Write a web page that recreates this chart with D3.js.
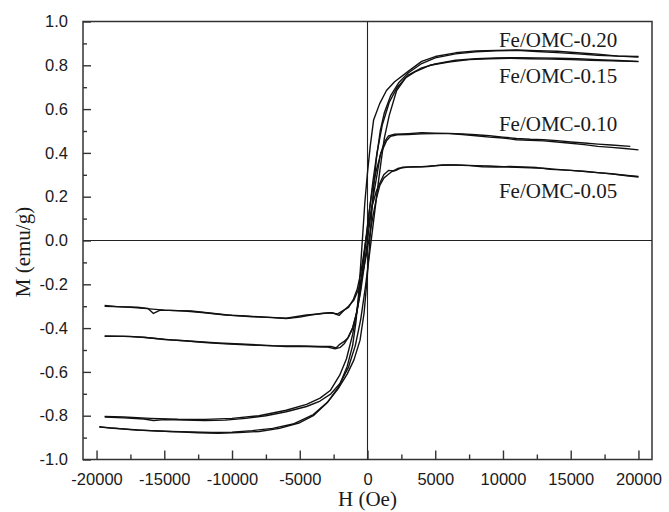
<!DOCTYPE html>
<html>
<head>
<meta charset="utf-8">
<script src="https://cdn.jsdelivr.net/npm/d3@7/dist/d3.min.js"></script>
<style>
  html, body { margin: 0; padding: 0; background: #fff; }
  svg { display: block; }
</style>
</head>
<body>
<div id="chart"></div>
<script>
// Magnetic hysteresis loops M(H) of Fe/OMC samples, each as [H (Oe), M (emu/g)]

// Fe/OMC-0.20
const fe20Down = [[20000,0.838],[18500,0.842],[17000,0.851],[15500,0.857],[14000,0.864],[12500,0.867],[11000,0.870],[9500,0.868],[8000,0.866],[6500,0.857],[5000,0.84],[4000,0.818],[3000,0.772],[2000,0.725],[1400,0.685],[900,0.625],[450,0.55],[200,0.43],[0,0.31],[-200,0.17],[-350,0.03],[-500,-0.11],[-650,-0.24],[-850,-0.37],[-1100,-0.48],[-1500,-0.575],[-2100,-0.665],[-2900,-0.735],[-4000,-0.795],[-5500,-0.838],[-7000,-0.858],[-8500,-0.868],[-10000,-0.875],[-11500,-0.877],[-13000,-0.874],[-14500,-0.872],[-16000,-0.868],[-17500,-0.863],[-19000,-0.856],[-19800,-0.85]];
const fe20Up = [[-19800,-0.852],[-18500,-0.858],[-17000,-0.866],[-15500,-0.870],[-14000,-0.874],[-12500,-0.878],[-11000,-0.880],[-9500,-0.877],[-8000,-0.872],[-6500,-0.858],[-5000,-0.832],[-4000,-0.80],[-3000,-0.742],[-2200,-0.68],[-1500,-0.61],[-1000,-0.545],[-550,-0.455],[-250,-0.33],[-50,-0.19],[120,-0.05],[280,0.10],[450,0.24],[650,0.37],[940,0.50],[1250,0.585],[1700,0.66],[2300,0.72],[3000,0.765],[4000,0.808],[5000,0.834],[6500,0.852],[8000,0.862],[9500,0.866],[11000,0.868],[12500,0.863],[14000,0.858],[15500,0.852],[17000,0.846],[18500,0.842],[20000,0.84]];

// Fe/OMC-0.15
const fe15Down = [[20000,0.818],[18500,0.822],[17000,0.826],[15500,0.830],[14000,0.832],[12500,0.834],[11000,0.835],[9500,0.834],[8000,0.830],[6500,0.823],[5000,0.806],[4000,0.788],[3000,0.755],[2200,0.70],[1600,0.63],[1100,0.53],[700,0.40],[400,0.27],[150,0.14],[-150,-0.02],[-450,-0.17],[-750,-0.31],[-1100,-0.43],[-1550,-0.54],[-2050,-0.615],[-2750,-0.685],[-3500,-0.72],[-4500,-0.748],[-6000,-0.775],[-8000,-0.80],[-10000,-0.812],[-12000,-0.817],[-14000,-0.816],[-16000,-0.812],[-18000,-0.806],[-19400,-0.803]];
const fe15Up = [[-19400,-0.806],[-18000,-0.810],[-16500,-0.815],[-15800,-0.822],[-15000,-0.818],[-13500,-0.820],[-12000,-0.822],[-10500,-0.820],[-9000,-0.812],[-7500,-0.80],[-6000,-0.782],[-4500,-0.758],[-3500,-0.733],[-2700,-0.70],[-2000,-0.65],[-1400,-0.578],[-900,-0.48],[-500,-0.36],[-150,-0.21],[150,-0.06],[450,0.09],[750,0.24],[1000,0.36],[1250,0.47],[1600,0.57],[2150,0.685],[2800,0.742],[3500,0.77],[4600,0.80],[6000,0.815],[7500,0.826],[9000,0.830],[10500,0.832],[12000,0.830],[13500,0.828],[15000,0.826],[16500,0.823],[18000,0.820],[19400,0.818],[20000,0.817]];

// Fe/OMC-0.10
const fe10Down = [[20000,0.414],[19000,0.420],[18000,0.425],[17000,0.430],[16000,0.438],[15000,0.444],[14000,0.450],[13000,0.455],[12000,0.457],[11000,0.460],[10000,0.468],[9000,0.472],[8000,0.478],[7000,0.484],[6000,0.488],[5000,0.488],[4000,0.487],[3000,0.484],[2200,0.483],[1700,0.476],[1400,0.455],[1000,0.40],[650,0.32],[350,0.23],[100,0.12],[-150,-0.01],[-350,-0.13],[-550,-0.24],[-800,-0.33],[-1100,-0.40],[-1450,-0.445],[-1750,-0.462],[-2050,-0.474],[-2300,-0.49],[-2700,-0.484],[-3500,-0.484],[-5000,-0.482],[-7000,-0.480],[-9000,-0.474],[-11000,-0.468],[-13000,-0.460],[-14500,-0.454],[-16000,-0.445],[-17500,-0.438],[-19400,-0.436]];
const fe10Up = [[-19400,-0.438],[-18000,-0.438],[-16500,-0.442],[-15000,-0.452],[-13500,-0.458],[-12000,-0.466],[-10500,-0.472],[-9000,-0.476],[-7500,-0.480],[-6000,-0.484],[-4500,-0.484],[-3000,-0.486],[-2400,-0.495],[-2000,-0.488],[-1700,-0.47],[-1400,-0.44],[-1100,-0.40],[-800,-0.33],[-500,-0.23],[-250,-0.12],[0,0.0],[200,0.10],[450,0.21],[700,0.30],[940,0.39],[1250,0.45],[1550,0.478],[2000,0.485],[3000,0.488],[4000,0.492],[5000,0.490],[6000,0.489],[7000,0.487],[8000,0.483],[9000,0.478],[10000,0.472],[11000,0.466],[12000,0.462],[13000,0.460],[14000,0.456],[15000,0.450],[16000,0.445],[17000,0.440],[18000,0.436],[19400,0.430]];

// Fe/OMC-0.05
const fe05Down = [[20000,0.290],[19000,0.297],[18000,0.304],[17000,0.310],[16000,0.316],[15000,0.320],[14000,0.325],[13000,0.330],[12000,0.332],[11000,0.334],[10000,0.337],[9000,0.340],[8000,0.342],[7000,0.344],[6000,0.345],[5000,0.342],[4000,0.337],[3000,0.335],[2300,0.330],[1900,0.318],[1550,0.32],[1200,0.30],[900,0.26],[650,0.225],[350,0.16],[100,0.08],[-100,0.01],[-300,-0.07],[-500,-0.15],[-750,-0.22],[-1050,-0.27],[-1400,-0.305],[-1800,-0.32],[-2200,-0.335],[-2800,-0.330],[-3500,-0.335],[-4500,-0.340],[-6000,-0.355],[-7500,-0.350],[-9000,-0.345],[-10500,-0.340],[-12000,-0.330],[-13500,-0.322],[-15000,-0.318],[-16500,-0.310],[-17500,-0.305],[-18500,-0.302],[-19400,-0.297]];
const fe05Up = [[-19400,-0.300],[-18000,-0.303],[-17000,-0.305],[-16200,-0.310],[-15800,-0.333],[-15300,-0.318],[-14000,-0.320],[-13000,-0.322],[-11500,-0.332],[-10000,-0.342],[-8500,-0.348],[-7000,-0.352],[-6000,-0.356],[-5000,-0.350],[-4200,-0.340],[-3300,-0.332],[-2600,-0.330],[-2100,-0.342],[-1750,-0.320],[-1400,-0.300],[-1000,-0.272],[-650,-0.22],[-350,-0.15],[-100,-0.07],[150,0.02],[400,0.11],[650,0.19],[900,0.25],[1200,0.285],[1500,0.300],[1800,0.315],[2100,0.320],[2600,0.335],[3500,0.337],[4500,0.338],[5500,0.345],[6500,0.345],[7500,0.342],[8500,0.337],[9500,0.335],[10500,0.338],[11500,0.336],[12500,0.333],[13500,0.325],[15000,0.320],[16500,0.312],[18000,0.305],[19000,0.298],[20000,0.292]];

const sampleNames = ["Fe/OMC-0.20", "Fe/OMC-0.15", "Fe/OMC-0.10", "Fe/OMC-0.05"];

// Axis ticks
const xTickValues = [-20000, -15000, -10000, -5000, 0, 5000, 10000, 15000, 20000];
const xTickLabels = ["-20000", "-15000", "-10000", "-5000", "0", "5000", "10000", "15000", "20000"];
const xMinorTicks = [-17500, -12500, -7500, -2500, 2500, 7500, 12500, 17500];
const yTickValues = [-1.0, -0.8, -0.6, -0.4, -0.2, 0.0, 0.2, 0.4, 0.6, 0.8, 1.0];
const yTickLabels = ["-1.0", "-0.8", "-0.6", "-0.4", "-0.2", "0.0", "0.2", "0.4", "0.6", "0.8", "1.0"];
const yMinorTicks = [-0.9, -0.7, -0.5, -0.3, -0.1, 0.1, 0.3, 0.5, 0.7, 0.9];

// Layout
const W = 669, H = 512;
const frame = { left: 83, right: 652, top: 21.5, bottom: 459.5 };
const loops = [
  { name: sampleNames[0], branches: [fe20Down, fe20Up], label: [9700, 0.885] },
  { name: sampleNames[1], branches: [fe15Down, fe15Up], label: [9700, 0.72] },
  { name: sampleNames[2], branches: [fe10Down, fe10Up], label: [9700, 0.498] },
  { name: sampleNames[3], branches: [fe05Down, fe05Up], label: [9700, 0.196] }
];

const svg = d3.select("#chart").append("svg")
  .attr("width", W).attr("height", H);

const x = d3.scaleLinear().domain([-21000, 21000]).range([frame.left, frame.right]);
const y = d3.scaleLinear().domain([-1, 1]).range([frame.bottom, frame.top]);

const sans = "'Liberation Sans', Arial, Helvetica, sans-serif";
const serif = "'Liberation Serif', 'Times New Roman', Times, serif";
const axisColor = "#333";

// Frame box
svg.append("rect")
  .attr("x", frame.left).attr("y", frame.top)
  .attr("width", frame.right - frame.left)
  .attr("height", frame.bottom - frame.top)
  .attr("fill", "none").attr("stroke", axisColor).attr("stroke-width", 1.5);

// Zero lines
svg.append("line")
  .attr("x1", frame.left).attr("x2", frame.right)
  .attr("y1", y(0)).attr("y2", y(0))
  .attr("stroke", "#222").attr("stroke-width", 1.1);
svg.append("line")
  .attr("x1", x(0)).attr("x2", x(0))
  .attr("y1", frame.top).attr("y2", frame.bottom)
  .attr("stroke", "#222").attr("stroke-width", 1.1);

// Bottom axis (inward ticks)
const xAxis = d3.axisBottom(x)
  .tickValues(xTickValues)
  .tickFormat((d, i) => xTickLabels[i])
  .tickSizeInner(-9).tickSizeOuter(0).tickPadding(14);
const gx = svg.append("g").attr("transform", `translate(0,${frame.bottom})`).call(xAxis);
gx.select(".domain").remove();
gx.selectAll(".tick line").attr("stroke", axisColor).attr("stroke-width", 1.4);
gx.selectAll(".tick text")
  .attr("fill", "#1a1a1a").style("font-family", sans).style("font-size", "16.5px");

const xAxisMinor = d3.axisBottom(x).tickValues(xMinorTicks).tickFormat("")
  .tickSizeInner(-5).tickSizeOuter(0);
const gxm = svg.append("g").attr("transform", `translate(0,${frame.bottom})`).call(xAxisMinor);
gxm.select(".domain").remove();
gxm.selectAll(".tick line").attr("stroke", axisColor).attr("stroke-width", 1.4);

// Left axis (inward ticks)
const yAxis = d3.axisLeft(y)
  .tickValues(yTickValues)
  .tickFormat((d, i) => yTickLabels[i])
  .tickSizeInner(-8).tickSizeOuter(0).tickPadding(15);
const gy = svg.append("g").attr("transform", `translate(${frame.left},0)`).call(yAxis);
gy.select(".domain").remove();
gy.selectAll(".tick line").attr("stroke", axisColor).attr("stroke-width", 1.4);
gy.selectAll(".tick text")
  .attr("fill", "#1a1a1a").style("font-family", sans).style("font-size", "16.5px");

const yAxisMinor = d3.axisLeft(y).tickValues(yMinorTicks).tickFormat("")
  .tickSizeInner(-4).tickSizeOuter(0);
const gym = svg.append("g").attr("transform", `translate(${frame.left},0)`).call(yAxisMinor);
gym.select(".domain").remove();
gym.selectAll(".tick line").attr("stroke", axisColor).attr("stroke-width", 1.4);

// Axis titles
svg.append("text")
  .attr("x", x(0)).attr("y", 506)
  .attr("text-anchor", "middle")
  .style("font-family", serif).style("font-size", "21px").attr("fill", "#1a1a1a")
  .text("H (Oe)");
svg.append("text")
  .attr("transform", `translate(30,252) rotate(-90)`)
  .attr("text-anchor", "middle")
  .style("font-family", serif).style("font-size", "21px").attr("fill", "#1a1a1a")
  .text("M (emu/g)");

// Hysteresis curves
const line = d3.line().x(d => x(d[0])).y(d => y(d[1]));
const curves = svg.append("g");
loops.forEach(loop => {
  loop.branches.forEach(branch => {
    curves.append("path")
      .datum(branch)
      .attr("d", line)
      .attr("fill", "none")
      .attr("stroke", "#111")
      .attr("stroke-width", 1.4)
      .attr("stroke-linejoin", "round");
  });
});

// Sample labels
loops.forEach(loop => {
  svg.append("text")
    .attr("x", x(loop.label[0])).attr("y", y(loop.label[1]))
    .style("font-family", serif).style("font-size", "21px").attr("fill", "#1a1a1a")
    .text(loop.name);
});
</script>
</body>
</html>
